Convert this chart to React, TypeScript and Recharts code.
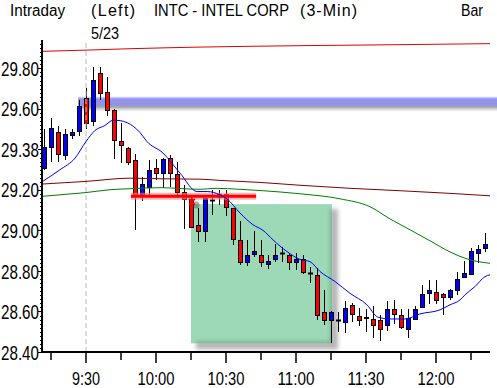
import React from "react";
import {
  ComposedChart,
  Bar,
  Line,
  XAxis,
  YAxis,
  ReferenceArea,
  ReferenceLine,
  ReferenceDot,
} from "recharts";

// bar start times, minutes after 9:00 (3-min bars)
const times = [
  12, 15, 18, 21, 24, 27, 30, 33, 36, 39, 42, 45, 48, 51, 54, 57,
  60, 63, 66, 69, 72, 75, 78, 81, 84, 87, 90, 93, 96, 99, 102, 105,
  108, 111, 114, 117, 120, 123, 126, 129, 132, 135, 138, 141, 144, 147, 150, 153,
  156, 159, 162, 165, 168, 171, 174, 177, 180, 183, 186, 189, 192, 195, 198, 201,
];

const opens = [
  29.31, 29.41, 29.485, 29.37, 29.47, 29.49, 29.655, 29.54, 29.775, 29.685, 29.595, 29.44, 29.405, 29.35, 29.17, 29.215,
  29.31, 29.285, 29.36, 29.28, 29.19, 29.155, 29.025, 28.995, 29.15, 29.165, 29.18, 29.11, 28.955, 28.845, 28.885, 28.88,
  28.835, 28.86, 28.89, 28.88, 28.845, 28.86, 28.79, 28.78, 28.595, 28.56, 28.56, 28.55, 28.63, 28.58, 28.575, 28.565,
  28.56, 28.535, 28.61, 28.585, 28.515, 28.565, 28.62, 28.69, 28.695, 28.685, 28.67, 28.705, 28.77, 28.785, 28.89, 28.915,
];
const highs = [
  29.5, 29.555, 29.515, 29.5, 29.5, 29.645, 29.705, 29.805, 29.805, 29.755, 29.6, 29.53, 29.41, 29.375, 29.265, 29.35,
  29.355, 29.36, 29.37, 29.34, 29.225, 29.17, 29.11, 29.17, 29.2, 29.2, 29.2, 29.11, 29.045, 28.955, 28.995, 28.955,
  28.88, 28.935, 28.92, 28.89, 28.89, 28.88, 28.82, 28.815, 28.705, 28.6, 28.595, 28.65, 28.64, 28.615, 28.61, 28.625,
  28.585, 28.65, 28.655, 28.61, 28.61, 28.625, 28.73, 28.755, 28.755, 28.69, 28.71, 28.795, 28.85, 28.915, 28.93, 28.985,
];
const lows = [
  29.3, 29.34, 29.34, 29.35, 29.45, 29.465, 29.5, 29.515, 29.645, 29.565, 29.355, 29.335, 29.325, 29.0, 29.145, 29.175,
  29.25, 29.21, 29.215, 29.17, 29.005, 29.01, 28.945, 28.945, 29.075, 29.125, 29.07, 28.93, 28.83, 28.825, 28.87, 28.82,
  28.81, 28.845, 28.845, 28.805, 28.805, 28.785, 28.74, 28.56, 28.535, 28.445, 28.5, 28.495, 28.55, 28.53, 28.5, 28.47,
  28.455, 28.505, 28.54, 28.515, 28.47, 28.56, 28.62, 28.635, 28.635, 28.585, 28.655, 28.68, 28.765, 28.78, 28.84, 28.895,
];
const closes = [
  29.41, 29.505, 29.375, 29.475, 29.485, 29.615, 29.53, 29.745, 29.68, 29.595, 29.445, 29.42, 29.34, 29.17, 29.23, 29.3,
  29.285, 29.355, 29.285, 29.19, 29.155, 29.015, 28.995, 29.16, 29.15, 29.18, 29.115, 28.96, 28.845, 28.88, 28.9, 28.845,
  28.85, 28.88, 28.89, 28.845, 28.86, 28.795, 28.79, 28.585, 28.56, 28.595, 28.56, 28.615, 28.59, 28.56, 28.57, 28.535,
  28.515, 28.61, 28.59, 28.525, 28.57, 28.61, 28.685, 28.705, 28.655, 28.67, 28.705, 28.76, 28.79, 28.9, 28.91, 28.935,
];

// overlay averages as [minute, price]
const fastAvg: [number, number][] = [
  [11.14, 29.24], [18.9, 29.3], [25.3, 29.357], [30, 29.439], [33.9, 29.494], [38.1, 29.518],
  [41.6, 29.544], [44.6, 29.542], [47.6, 29.532], [53.1, 29.484], [56.1, 29.439], [63, 29.382],
  [70.3, 29.283], [77.6, 29.192], [81.9, 29.192], [87.4, 29.176], [90.4, 29.156], [96, 29.086],
  [101.6, 29.028], [105.9, 29.0], [110.1, 28.954], [116.1, 28.896], [121.7, 28.857], [126, 28.846],
  [130.3, 28.797], [136.7, 28.748], [143.1, 28.69], [150.4, 28.633], [155.1, 28.572], [160.3, 28.563],
  [166.7, 28.563], [173.1, 28.588], [181.7, 28.608], [186, 28.633], [190.3, 28.657], [192.4, 28.682],
  [196.7, 28.723], [201, 28.772], [203.14, 28.781],
];
const midAvg: [number, number][] = [
  [11.14, 29.168], [18.9, 29.176], [30, 29.187], [40.3, 29.201], [48.9, 29.206], [61.7, 29.211],
  [78.9, 29.203], [85.3, 29.208], [96, 29.203], [104.6, 29.197], [121.7, 29.181], [138.9, 29.156],
  [151.7, 29.117], [160.3, 29.057], [168.9, 29.003], [177.4, 28.949], [186, 28.894], [194.6, 28.855],
  [203.14, 28.838],
];
const slowAvg: [number, number][] = [
  [11.14, 29.229], [30, 29.242], [48.9, 29.258], [61.7, 29.255], [78.9, 29.253], [87.4, 29.247],
  [104.6, 29.237], [121.7, 29.223], [143.1, 29.208], [164.6, 29.196], [186, 29.183], [203.14, 29.171],
];
const topAvg: [number, number][] = [
  [11.14, 29.884], [30, 29.89], [48.9, 29.897], [78.9, 29.905], [121.7, 29.912], [164.6, 29.917],
  [203.14, 29.922],
];

const xTicks = [15, 30, 45, 60, 75, 90, 105, 120, 135, 150, 165, 180, 195];
const xLabelAt = [30, 60, 90, 120, 150, 180];
const xLabels = ["9:30", "10:00", "10:30", "11:00", "11:30", "12:00"];

const yMajor = [28.4, 28.6, 28.8, 29.0, 29.2, 29.4, 29.6, 29.8];
const yLabels = ["28.40", "28.60", "28.80", "29.00", "29.20", "29.38", "29.60", "29.80"];
const yTicks = Array.from({ length: 77 }, (_, k) => +(28.4 + k * 0.02).toFixed(2));

const FONT = "'Liberation Sans', Arial, sans-serif";

const Candle = (props: any) => {
  const { x, y, width, height, payload } = props;
  if (x == null || !payload || !height) return null;
  const { o, h, l, c } = payload;
  const cx = Math.round(x + width / 2);
  const py = (p: number) => y + ((h - p) / (h - l)) * height;
  const top = Math.round(py(Math.max(o, c))) + 0.5;
  const bot = Math.round(py(Math.min(o, c))) + 0.5;
  const doji = bot - top < 1;
  return (
    <g>
      <line x1={cx + 0.5} x2={cx + 0.5} y1={Math.round(y)} y2={Math.round(y + height)} stroke="#000" />
      {doji ? (
        <line x1={cx - 2} x2={cx + 3} y1={top} y2={top} stroke="#000" strokeWidth={2} />
      ) : (
        <rect
          x={cx - 1.5}
          y={top}
          width={4}
          height={bot - top}
          fill={c > o ? "#0000ff" : "#ff0000"}
          stroke="#000"
        />
      )}
    </g>
  );
};

const TimeTick = (props: any) => {
  const { x, y, payload } = props;
  const idx = xLabelAt.indexOf(payload.value);
  const label = idx >= 0 ? xLabels[idx] : "";
  return (
    <g>
      <line x1={x} x2={x} y1={y} y2={y + (idx >= 0 ? 11 : 8)} stroke="#000" strokeWidth={1.5} />
      {idx >= 0 && (
        <text
          x={x}
          y={y + 33}
          textAnchor="middle"
          fontSize={18}
          fontFamily={FONT}
          fill="#000"
          textLength={label.length === 4 ? 28 : 37}
          lengthAdjust="spacingAndGlyphs"
        >
          {label}
        </text>
      )}
    </g>
  );
};

const PriceTick = (props: any) => {
  const { x, y, payload } = props;
  const idx = yMajor.findIndex((v) => Math.abs(v - payload.value) < 1e-6);
  const yy = Math.round(y) + 0.5;
  return (
    <g>
      <line x1={idx >= 0 ? x - 4 : x - 2} x2={x} y1={yy} y2={yy} stroke="#000" />
      {idx >= 0 && (
        <text
          x={x - 3}
          y={y}
          dy="0.36em"
          textAnchor="end"
          fontSize={21}
          fontFamily={FONT}
          fill="#000"
          textLength={38}
          lengthAdjust="spacingAndGlyphs"
        >
          {yLabels[idx]}
        </text>
      )}
    </g>
  );
};

const BoxShape = (props: any) => {
  const { x, y, width, height } = props;
  return (
    <g>
      <defs>
        <filter id="boxBlur" x="-20%" y="-20%" width="140%" height="140%">
          <feGaussianBlur stdDeviation="2" />
        </filter>
      </defs>
      <g filter="url(#boxBlur)" opacity={0.55}>
        <rect x={x + width - 2} y={y + 5} width={8} height={height + 1} fill="#777" />
        <rect x={x + 5} y={y + height - 2} width={width + 1} height={8} fill="#777" />
      </g>
      <rect x={x} y={y} width={width} height={height} fill="#3cb46e" fillOpacity={0.5} />
    </g>
  );
};

const BandShape = (props: any) => {
  const { x, y, width, height } = props;
  return (
    <g>
      <defs>
        <linearGradient id="bandGrad" x1="0" y1="0" x2="0" y2="1">
          <stop offset="0" stopColor="#9a9aff" stopOpacity={0.35} />
          <stop offset="0.15" stopColor="#7878f0" stopOpacity={0.8} />
          <stop offset="0.5" stopColor="#6e6ed8" stopOpacity={0.75} />
          <stop offset="0.68" stopColor="#6a6a80" stopOpacity={0.6} />
          <stop offset="1" stopColor="#a0a0a0" stopOpacity={0} />
        </linearGradient>
      </defs>
      <rect x={x} y={y} width={width} height={height} fill="url(#bandGrad)" />
    </g>
  );
};

const Marker = (props: any) => {
  const { cx, cy } = props;
  if (cx == null) return null;
  return (
    <g>
      <circle cx={cx + 4} cy={cy + 3} r={3.5} fill="#555" opacity={0.5} />
      <path
        d={`M${cx - 3},${cy - 3} L${cx + 3},${cy + 3} M${cx + 3},${cy - 3} L${cx - 3},${cy + 3} M${cx},${cy - 4} L${cx},${cy + 4}`}
        stroke="#ff0000"
        strokeWidth={1.6}
      />
    </g>
  );
};

const toPts = (arr: [number, number][]) => arr.map(([t, v]) => ({ t, v }));

// header texts: widen by spacing only, squeeze glyphs when too wide
const HeadText = ({ x, y, w, adjust, children }: any) => (
  <text x={x} y={y} textLength={w} lengthAdjust={adjust || "spacingAndGlyphs"}>
    {children}
  </text>
);

export default function App() {
  const candles = times.map((t, i) => ({ t, o: opens[i], h: highs[i], l: lows[i], c: closes[i] }));

  return (
    <div style={{ position: "absolute", left: 0, top: 0, width: 497, height: 388, background: "#fff" }}>
      <ComposedChart
        width={497}
        height={388}
        data={candles}
        margin={{ top: 40, right: 7, bottom: 0, left: 0 }}
      >
        <XAxis
          dataKey="t"
          type="number"
          domain={[11.14, 203.14]}
          allowDataOverflow
          ticks={xTicks}
          interval={0}
          tick={<TimeTick />}
          tickLine={false}
          tickSize={0}
          tickMargin={0}
          height={36}
          axisLine={{ stroke: "#000", strokeWidth: 2 }}
        />
        <YAxis
          type="number"
          domain={[28.4, 29.94]}
          allowDataOverflow
          ticks={yTicks}
          interval={0}
          tick={<PriceTick />}
          tickLine={false}
          tickSize={0}
          tickMargin={0}
          width={42}
          axisLine={{ stroke: "#000", strokeWidth: 2 }}
        />
        <ReferenceLine x={30} stroke="#b8b8b8" strokeDasharray="5 3" />
        <Line data={toPts(topAvg)} dataKey="v" type="monotone" stroke="#e00000" strokeWidth={1} dot={false} isAnimationActive={false} />
        <Line data={toPts(slowAvg)} dataKey="v" type="monotone" stroke="#800000" strokeWidth={1} dot={false} isAnimationActive={false} />
        <Line data={toPts(midAvg)} dataKey="v" type="monotone" stroke="#008000" strokeWidth={1} dot={false} isAnimationActive={false} />
        <ReferenceLine
          segment={[{ x: 49.3, y: 29.169 }, { x: 102.9, y: 29.169 }]}
          stroke="#ff8080"
          strokeOpacity={0.6}
          strokeWidth={7}
        />
        <ReferenceLine
          segment={[{ x: 49.3, y: 29.169 }, { x: 102.9, y: 29.169 }]}
          stroke="#ff0000"
          strokeWidth={3}
        />
        <Bar dataKey={(d: any) => [d.l, d.h]} barSize={5} shape={<Candle />} isAnimationActive={false} />
        <Line data={toPts(fastAvg)} dataKey="v" type="monotone" stroke="#0000ff" strokeWidth={1} dot={false} isAnimationActive={false} />
        <ReferenceArea x1={75} x2={135.4} y1={28.443} y2={29.13} shape={<BoxShape />} ifOverflow="visible" />
        <ReferenceArea x1={26.6} x2={206.2} y1={29.585} y2={29.66} shape={<BandShape />} ifOverflow="visible" />
        <ReferenceDot x={75.4} y={29.141} shape={<Marker />} ifOverflow="visible" />
      </ComposedChart>
      <svg width={497} height={45} style={{ position: "absolute", left: 0, top: 0, pointerEvents: "none" }}>
        <g fontFamily={FONT} fontSize={16} fill="#000">
          <HeadText x={10} y={16} w={55}>Intraday</HeadText>
          <HeadText x={91} y={16} w={44} adjust="spacing">(Left)</HeadText>
          <HeadText x={154} y={16} w={135}>INTC - INTEL CORP</HeadText>
          <HeadText x={300} y={16} w={57} adjust="spacing">(3-Min)</HeadText>
          <HeadText x={461} y={16} w={22}>Bar</HeadText>
          <HeadText x={91} y={39} w={28}>5/23</HeadText>
        </g>
      </svg>
    </div>
  );
}
